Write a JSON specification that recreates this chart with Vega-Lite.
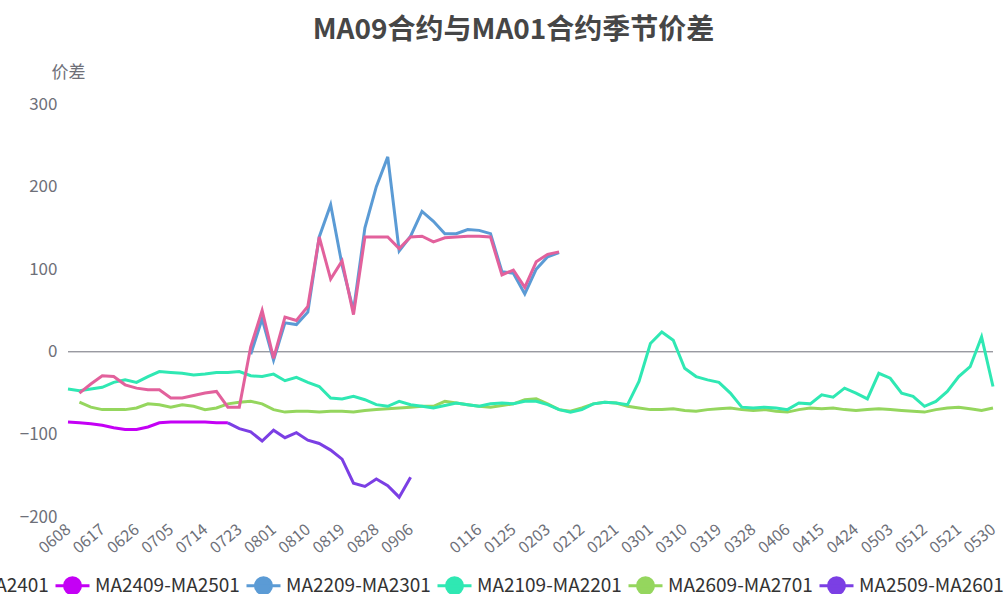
{
  "$schema": "https://vega.github.io/schema/vega-lite/v6.json",
  "autosize": "none",
  "width": 925,
  "height": 413,
  "padding": {"left": 68, "top": 104, "right": 12, "bottom": 77},
  "background": "white",
  "config": {
    "font": "Noto Sans CJK SC",
    "view": {"stroke": null}
  },
  "title": {
    "text": "MA09合约与MA01合约季节价差",
    "fontSize": 28,
    "fontWeight": "bold",
    "color": "#464646",
    "anchor": "middle",
    "dx": -17,
    "offset": 18
  },
  "data": {
    "values": [
      {"s":"MA2609-MA2701","d":"0611","v":-61},{"s":"MA2609-MA2701","d":"0614","v":-67},{"s":"MA2609-MA2701","d":"0617","v":-70},{"s":"MA2609-MA2701","d":"0620","v":-70},{"s":"MA2609-MA2701","d":"0623","v":-70},{"s":"MA2609-MA2701","d":"0626","v":-68},{"s":"MA2609-MA2701","d":"0629","v":-63},{"s":"MA2609-MA2701","d":"0702","v":-64},{"s":"MA2609-MA2701","d":"0705","v":-67},{"s":"MA2609-MA2701","d":"0708","v":-64},{"s":"MA2609-MA2701","d":"0711","v":-66},{"s":"MA2609-MA2701","d":"0714","v":-70},{"s":"MA2609-MA2701","d":"0717","v":-68},{"s":"MA2609-MA2701","d":"0720","v":-63},{"s":"MA2609-MA2701","d":"0723","v":-61},{"s":"MA2609-MA2701","d":"0726","v":-60},{"s":"MA2609-MA2701","d":"0729","v":-63},{"s":"MA2609-MA2701","d":"0801","v":-70},{"s":"MA2609-MA2701","d":"0804","v":-73},{"s":"MA2609-MA2701","d":"0807","v":-72},{"s":"MA2609-MA2701","d":"0810","v":-72},{"s":"MA2609-MA2701","d":"0813","v":-73},{"s":"MA2609-MA2701","d":"0816","v":-72},{"s":"MA2609-MA2701","d":"0819","v":-72},{"s":"MA2609-MA2701","d":"0822","v":-73},{"s":"MA2609-MA2701","d":"0825","v":-71},{"s":"MA2609-MA2701","d":"0828","v":-70},{"s":"MA2609-MA2701","d":"0831","v":-69},{"s":"MA2609-MA2701","d":"0903","v":-68},{"s":"MA2609-MA2701","d":"0906","v":-67},{"s":"MA2609-MA2701","d":"0928","v":-66},{"s":"MA2609-MA2701","d":"1020","v":-66},{"s":"MA2609-MA2701","d":"1111","v":-60},{"s":"MA2609-MA2701","d":"1203","v":-62},{"s":"MA2609-MA2701","d":"1225","v":-64},{"s":"MA2609-MA2701","d":"0116","v":-66},{"s":"MA2609-MA2701","d":"0119","v":-67},{"s":"MA2609-MA2701","d":"0122","v":-65},{"s":"MA2609-MA2701","d":"0125","v":-63},{"s":"MA2609-MA2701","d":"0128","v":-58},{"s":"MA2609-MA2701","d":"0131","v":-57},{"s":"MA2609-MA2701","d":"0203","v":-63},{"s":"MA2609-MA2701","d":"0206","v":-70},{"s":"MA2609-MA2701","d":"0209","v":-72},{"s":"MA2609-MA2701","d":"0212","v":-68},{"s":"MA2609-MA2701","d":"0215","v":-63},{"s":"MA2609-MA2701","d":"0218","v":-61},{"s":"MA2609-MA2701","d":"0221","v":-62},{"s":"MA2609-MA2701","d":"0224","v":-66},{"s":"MA2609-MA2701","d":"0227","v":-68},{"s":"MA2609-MA2701","d":"0301","v":-70},{"s":"MA2609-MA2701","d":"0304","v":-70},{"s":"MA2609-MA2701","d":"0307","v":-69},{"s":"MA2609-MA2701","d":"0310","v":-71},{"s":"MA2609-MA2701","d":"0313","v":-72},{"s":"MA2609-MA2701","d":"0316","v":-70},{"s":"MA2609-MA2701","d":"0319","v":-69},{"s":"MA2609-MA2701","d":"0322","v":-68},{"s":"MA2609-MA2701","d":"0325","v":-70},{"s":"MA2609-MA2701","d":"0328","v":-71},{"s":"MA2609-MA2701","d":"0331","v":-70},{"s":"MA2609-MA2701","d":"0403","v":-72},{"s":"MA2609-MA2701","d":"0406","v":-73},{"s":"MA2609-MA2701","d":"0409","v":-70},{"s":"MA2609-MA2701","d":"0412","v":-68},{"s":"MA2609-MA2701","d":"0415","v":-69},{"s":"MA2609-MA2701","d":"0418","v":-68},{"s":"MA2609-MA2701","d":"0421","v":-70},{"s":"MA2609-MA2701","d":"0424","v":-71},{"s":"MA2609-MA2701","d":"0427","v":-70},{"s":"MA2609-MA2701","d":"0430","v":-69},{"s":"MA2609-MA2701","d":"0503","v":-70},{"s":"MA2609-MA2701","d":"0506","v":-71},{"s":"MA2609-MA2701","d":"0509","v":-72},{"s":"MA2609-MA2701","d":"0512","v":-73},{"s":"MA2609-MA2701","d":"0515","v":-70},{"s":"MA2609-MA2701","d":"0518","v":-68},{"s":"MA2609-MA2701","d":"0521","v":-67},{"s":"MA2609-MA2701","d":"0524","v":-69},{"s":"MA2609-MA2701","d":"0527","v":-71},{"s":"MA2609-MA2701","d":"0530","v":-68},

      {"s":"MA2109-MA2201","d":"0608","v":-45},{"s":"MA2109-MA2201","d":"0611","v":-47},{"s":"MA2109-MA2201","d":"0614","v":-45},{"s":"MA2109-MA2201","d":"0617","v":-43},{"s":"MA2109-MA2201","d":"0620","v":-37},{"s":"MA2109-MA2201","d":"0623","v":-34},{"s":"MA2109-MA2201","d":"0626","v":-37},{"s":"MA2109-MA2201","d":"0629","v":-30},{"s":"MA2109-MA2201","d":"0702","v":-24},{"s":"MA2109-MA2201","d":"0705","v":-25},{"s":"MA2109-MA2201","d":"0708","v":-26},{"s":"MA2109-MA2201","d":"0711","v":-28},{"s":"MA2109-MA2201","d":"0714","v":-27},{"s":"MA2109-MA2201","d":"0717","v":-25},{"s":"MA2109-MA2201","d":"0720","v":-25},{"s":"MA2109-MA2201","d":"0723","v":-24},{"s":"MA2109-MA2201","d":"0726","v":-29},{"s":"MA2109-MA2201","d":"0729","v":-30},{"s":"MA2109-MA2201","d":"0801","v":-27},{"s":"MA2109-MA2201","d":"0804","v":-35},{"s":"MA2109-MA2201","d":"0807","v":-31},{"s":"MA2109-MA2201","d":"0810","v":-37},{"s":"MA2109-MA2201","d":"0813","v":-42},{"s":"MA2109-MA2201","d":"0816","v":-56},{"s":"MA2109-MA2201","d":"0819","v":-57},{"s":"MA2109-MA2201","d":"0822","v":-54},{"s":"MA2109-MA2201","d":"0825","v":-58},{"s":"MA2109-MA2201","d":"0828","v":-64},{"s":"MA2109-MA2201","d":"0831","v":-66},{"s":"MA2109-MA2201","d":"0903","v":-60},{"s":"MA2109-MA2201","d":"0906","v":-64},{"s":"MA2109-MA2201","d":"0928","v":-66},{"s":"MA2109-MA2201","d":"1020","v":-68},{"s":"MA2109-MA2201","d":"1111","v":-65},{"s":"MA2109-MA2201","d":"1203","v":-62},{"s":"MA2109-MA2201","d":"1225","v":-64},{"s":"MA2109-MA2201","d":"0116","v":-66},{"s":"MA2109-MA2201","d":"0119","v":-63},{"s":"MA2109-MA2201","d":"0122","v":-62},{"s":"MA2109-MA2201","d":"0125","v":-63},{"s":"MA2109-MA2201","d":"0128","v":-60},{"s":"MA2109-MA2201","d":"0131","v":-60},{"s":"MA2109-MA2201","d":"0203","v":-64},{"s":"MA2109-MA2201","d":"0206","v":-70},{"s":"MA2109-MA2201","d":"0209","v":-73},{"s":"MA2109-MA2201","d":"0212","v":-70},{"s":"MA2109-MA2201","d":"0215","v":-63},{"s":"MA2109-MA2201","d":"0218","v":-61},{"s":"MA2109-MA2201","d":"0221","v":-62},{"s":"MA2109-MA2201","d":"0224","v":-64},{"s":"MA2109-MA2201","d":"0227","v":-36},{"s":"MA2109-MA2201","d":"0301","v":10},{"s":"MA2109-MA2201","d":"0304","v":24},{"s":"MA2109-MA2201","d":"0307","v":14},{"s":"MA2109-MA2201","d":"0310","v":-20},{"s":"MA2109-MA2201","d":"0313","v":-30},{"s":"MA2109-MA2201","d":"0316","v":-34},{"s":"MA2109-MA2201","d":"0319","v":-37},{"s":"MA2109-MA2201","d":"0322","v":-50},{"s":"MA2109-MA2201","d":"0325","v":-67},{"s":"MA2109-MA2201","d":"0328","v":-68},{"s":"MA2109-MA2201","d":"0331","v":-67},{"s":"MA2109-MA2201","d":"0403","v":-68},{"s":"MA2109-MA2201","d":"0406","v":-70},{"s":"MA2109-MA2201","d":"0409","v":-62},{"s":"MA2109-MA2201","d":"0412","v":-63},{"s":"MA2109-MA2201","d":"0415","v":-52},{"s":"MA2109-MA2201","d":"0418","v":-55},{"s":"MA2109-MA2201","d":"0421","v":-44},{"s":"MA2109-MA2201","d":"0424","v":-50},{"s":"MA2109-MA2201","d":"0427","v":-57},{"s":"MA2109-MA2201","d":"0430","v":-26},{"s":"MA2109-MA2201","d":"0503","v":-32},{"s":"MA2109-MA2201","d":"0506","v":-50},{"s":"MA2109-MA2201","d":"0509","v":-54},{"s":"MA2109-MA2201","d":"0512","v":-66},{"s":"MA2109-MA2201","d":"0515","v":-60},{"s":"MA2109-MA2201","d":"0518","v":-48},{"s":"MA2109-MA2201","d":"0521","v":-30},{"s":"MA2109-MA2201","d":"0524","v":-18},{"s":"MA2109-MA2201","d":"0527","v":18},{"s":"MA2109-MA2201","d":"0530","v":-42},

      {"s":"MA2409-MA2501","d":"0608","v":-85},{"s":"MA2409-MA2501","d":"0611","v":-86},{"s":"MA2409-MA2501","d":"0614","v":-87},{"s":"MA2409-MA2501","d":"0617","v":-89},{"s":"MA2409-MA2501","d":"0620","v":-92},{"s":"MA2409-MA2501","d":"0623","v":-94},{"s":"MA2409-MA2501","d":"0626","v":-94},{"s":"MA2409-MA2501","d":"0629","v":-91},{"s":"MA2409-MA2501","d":"0702","v":-86},{"s":"MA2409-MA2501","d":"0705","v":-85},{"s":"MA2409-MA2501","d":"0708","v":-85},{"s":"MA2409-MA2501","d":"0711","v":-85},{"s":"MA2409-MA2501","d":"0714","v":-85},{"s":"MA2409-MA2501","d":"0717","v":-86},{"s":"MA2409-MA2501","d":"0720","v":-86},

      {"s":"MA2509-MA2601","d":"0720","v":-86},{"s":"MA2509-MA2601","d":"0723","v":-93},{"s":"MA2509-MA2601","d":"0726","v":-97},{"s":"MA2509-MA2601","d":"0729","v":-108},{"s":"MA2509-MA2601","d":"0801","v":-95},{"s":"MA2509-MA2601","d":"0804","v":-104},{"s":"MA2509-MA2601","d":"0807","v":-98},{"s":"MA2509-MA2601","d":"0810","v":-107},{"s":"MA2509-MA2601","d":"0813","v":-111},{"s":"MA2509-MA2601","d":"0816","v":-119},{"s":"MA2509-MA2601","d":"0819","v":-130},{"s":"MA2509-MA2601","d":"0822","v":-159},{"s":"MA2509-MA2601","d":"0825","v":-163},{"s":"MA2509-MA2601","d":"0828","v":-154},{"s":"MA2509-MA2601","d":"0831","v":-162},{"s":"MA2509-MA2601","d":"0903","v":-176},{"s":"MA2509-MA2601","d":"0906","v":-152},

      {"s":"MA2209-MA2301","d":"0726","v":-3},{"s":"MA2209-MA2301","d":"0729","v":40},{"s":"MA2209-MA2301","d":"0801","v":-10},{"s":"MA2209-MA2301","d":"0804","v":35},{"s":"MA2209-MA2301","d":"0807","v":33},{"s":"MA2209-MA2301","d":"0810","v":48},{"s":"MA2209-MA2301","d":"0813","v":139},{"s":"MA2209-MA2301","d":"0816","v":178},{"s":"MA2209-MA2301","d":"0819","v":105},{"s":"MA2209-MA2301","d":"0822","v":50},{"s":"MA2209-MA2301","d":"0825","v":150},{"s":"MA2209-MA2301","d":"0828","v":200},{"s":"MA2209-MA2301","d":"0831","v":236},{"s":"MA2209-MA2301","d":"0903","v":122},{"s":"MA2209-MA2301","d":"0906","v":140},{"s":"MA2209-MA2301","d":"0928","v":170},{"s":"MA2209-MA2301","d":"1020","v":158},{"s":"MA2209-MA2301","d":"1111","v":143},{"s":"MA2209-MA2301","d":"1203","v":143},{"s":"MA2209-MA2301","d":"1225","v":148},{"s":"MA2209-MA2301","d":"0116","v":147},{"s":"MA2209-MA2301","d":"0119","v":143},{"s":"MA2209-MA2301","d":"0122","v":97},{"s":"MA2209-MA2301","d":"0125","v":95},{"s":"MA2209-MA2301","d":"0128","v":70},{"s":"MA2209-MA2301","d":"0131","v":100},{"s":"MA2209-MA2301","d":"0203","v":115},{"s":"MA2209-MA2301","d":"0206","v":120},

      {"s":"MA2309-MA2401","d":"0611","v":-50},{"s":"MA2309-MA2401","d":"0614","v":-39},{"s":"MA2309-MA2401","d":"0617","v":-29},{"s":"MA2309-MA2401","d":"0620","v":-30},{"s":"MA2309-MA2401","d":"0623","v":-40},{"s":"MA2309-MA2401","d":"0626","v":-44},{"s":"MA2309-MA2401","d":"0629","v":-46},{"s":"MA2309-MA2401","d":"0702","v":-46},{"s":"MA2309-MA2401","d":"0705","v":-56},{"s":"MA2309-MA2401","d":"0708","v":-56},{"s":"MA2309-MA2401","d":"0711","v":-53},{"s":"MA2309-MA2401","d":"0714","v":-50},{"s":"MA2309-MA2401","d":"0717","v":-48},{"s":"MA2309-MA2401","d":"0720","v":-67},{"s":"MA2309-MA2401","d":"0723","v":-67},{"s":"MA2309-MA2401","d":"0726","v":6},{"s":"MA2309-MA2401","d":"0729","v":50},{"s":"MA2309-MA2401","d":"0801","v":-8},{"s":"MA2309-MA2401","d":"0804","v":42},{"s":"MA2309-MA2401","d":"0807","v":38},{"s":"MA2309-MA2401","d":"0810","v":55},{"s":"MA2309-MA2401","d":"0813","v":139},{"s":"MA2309-MA2401","d":"0816","v":88},{"s":"MA2309-MA2401","d":"0819","v":110},{"s":"MA2309-MA2401","d":"0822","v":45},{"s":"MA2309-MA2401","d":"0825","v":139},{"s":"MA2309-MA2401","d":"0828","v":139},{"s":"MA2309-MA2401","d":"0831","v":139},{"s":"MA2309-MA2401","d":"0903","v":125},{"s":"MA2309-MA2401","d":"0906","v":139},{"s":"MA2309-MA2401","d":"0928","v":140},{"s":"MA2309-MA2401","d":"1020","v":133},{"s":"MA2309-MA2401","d":"1111","v":138},{"s":"MA2309-MA2401","d":"1203","v":139},{"s":"MA2309-MA2401","d":"1225","v":140},{"s":"MA2309-MA2401","d":"0116","v":140},{"s":"MA2309-MA2401","d":"0119","v":139},{"s":"MA2309-MA2401","d":"0122","v":93},{"s":"MA2309-MA2401","d":"0125","v":99},{"s":"MA2309-MA2401","d":"0128","v":78},{"s":"MA2309-MA2401","d":"0131","v":109},{"s":"MA2309-MA2401","d":"0203","v":118},{"s":"MA2309-MA2401","d":"0206","v":121}
    ]
  },
  "layer": [
    {
      "data": {"values": [{}]},
      "mark": {"type": "rule", "color": "#6E7079", "strokeWidth": 1},
      "encoding": {"y": {"datum": 0, "type": "quantitative"}}
    },
    {
      "mark": {"type": "line", "strokeWidth": 3, "interpolate": "linear"},
      "encoding": {
        "x": {
          "field": "d",
          "type": "ordinal",
          "scale": {
            "type": "point",
            "padding": 0,
            "domain": ["0608","0611","0614","0617","0620","0623","0626","0629","0702","0705","0708","0711","0714","0717","0720","0723","0726","0729","0801","0804","0807","0810","0813","0816","0819","0822","0825","0828","0831","0903","0906","0928","1020","1111","1203","1225","0116","0119","0122","0125","0128","0131","0203","0206","0209","0212","0215","0218","0221","0224","0227","0301","0304","0307","0310","0313","0316","0319","0322","0325","0328","0331","0403","0406","0409","0412","0415","0418","0421","0424","0427","0430","0503","0506","0509","0512","0515","0518","0521","0524","0527","0530"]
          },
          "axis": {
            "title": null,
            "values": ["0608","0617","0626","0705","0714","0723","0801","0810","0819","0828","0906","0116","0125","0203","0212","0221","0301","0310","0319","0328","0406","0415","0424","0503","0512","0521","0530"],
            "domain": false,
            "ticks": false,
            "grid": false,
            "labelAngle": -40,
            "labelAlign": "right",
            "labelBaseline": "middle",
            "labelPadding": 10,
            "labelFontSize": 16,
            "labelColor": "#6E7079",
            "labelOverlap": false
          }
        },
        "y": {
          "field": "v",
          "type": "quantitative",
          "scale": {"domain": [-200, 300], "nice": false, "zero": false},
          "axis": {
            "title": "价差",
            "titleAngle": 0,
            "titleAlign": "center",
            "titleBaseline": "middle",
            "titleX": 0,
            "titleY": -32,
            "titleFontSize": 17,
            "titleFontWeight": "normal",
            "titleColor": "#6E7079",
            "values": [-200, -100, 0, 100, 200, 300],
            "domain": false,
            "ticks": false,
            "labelPadding": 11,
            "labelFontSize": 17,
            "labelColor": "#6E7079",
            "gridColor": "#E0E6F1",
            "gridWidth": 1
          }
        },
        "color": {
          "field": "s",
          "type": "nominal",
          "scale": {
            "domain": ["MA2309-MA2401","MA2409-MA2501","MA2209-MA2301","MA2109-MA2201","MA2609-MA2701","MA2509-MA2601"],
            "range": ["#E2619C","#C400F5","#5B9BD5","#2FE8B3","#95D65E","#7B3FE4"]
          },
          "legend": {
            "title": null,
            "orient": "none",
            "legendX": -205,
            "legendY": 463,
            "direction": "horizontal",
            "columns": 6,
            "columnPadding": 0,
            "labelFontSize": 19,
            "labelColor": "#333333",
            "labelLimit": 300,
            "labelOffset": 4,
            "symbolType": "M-1,0H1M-0.47,0A0.47,0.47 0 1 1 0.47,0A0.47,0.47 0 1 1 -0.47,0",
            "symbolSize": 1156,
            "symbolStrokeWidth": 3,
            "encode": {
              "symbols": {"update": {"fill": {"scale": "color", "field": "value"}, "opacity": {"value": 1}}}
            }
          }
        }
      }
    }
  ]
}
